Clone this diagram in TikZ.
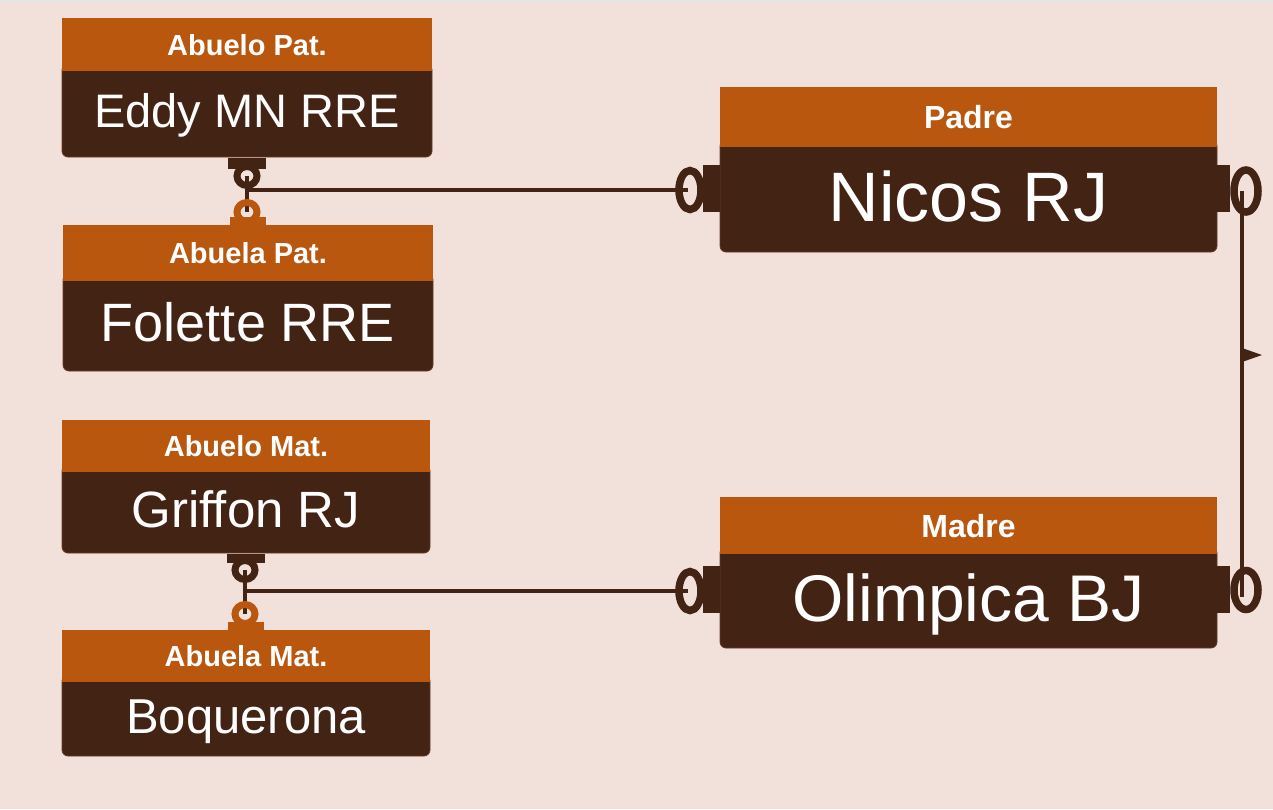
\documentclass[tikz,border=0pt]{standalone}
\usepackage{fontspec}
\setmainfont{Liberation Sans}
\usetikzlibrary{positioning}
\definecolor{famback}{HTML}{F2E1DB}
\definecolor{famorange}{HTML}{B9570E}
\definecolor{fambrown}{HTML}{432314}
\definecolor{famedge}{HTML}{6A3B24}
\newcommand{\fsz}[1]{\fontsize{#1}{#1}\selectfont}
\tikzset{
  person/.style={fill=fambrown,draw=famedge,line width=0.8pt,rounded corners=6pt,
    text=white,text depth=0pt,inner sep=0pt},
  role/.style={fill=famorange,text=white,text depth=0pt,inner sep=0pt},
  size/.style={font=\fsz{#1},text height=0.716*#1pt},
  bold size/.style={font=\bfseries\fsz{#1},text height=0.716*#1pt},
  tab/.style={fill=fambrown,inner sep=0pt},
  orange tab/.style={fill=famorange,inner sep=0pt},
  link/.style={draw=fambrown,line width=4pt},
  ring/.style={draw=fambrown,line width=7pt},
  orange ring/.style={draw=famorange,line width=7pt},
  oval/.style={draw=fambrown,line width=7.5pt}
}
\begin{document}
\begin{tikzpicture}[x=1pt,y=-1pt]
  \fill[famback] (0,0) rectangle (1273,809);
  \fill[black!10] (0,0) rectangle (1273,2);
  \useasboundingbox (0,0) rectangle (1273,809);

  \node[person,minimum width=370pt,minimum height=93pt,size=47] (eddy) at (247,110.5) {Eddy MN RRE};
  \node[role,minimum width=370pt,minimum height=53pt,bold size=29,above=-8pt of eddy] (eddyrole) {Abuelo Pat.};
  \node[person,minimum width=370pt,minimum height=97pt,size=54] (folette) at (248,322.5) {Folette RRE};
  \node[role,minimum width=370pt,minimum height=56pt,bold size=29,above=-8pt of folette] (foletterole) {Abuela Pat.};
  \node[person,minimum width=368pt,minimum height=88pt,size=51] (griffon) at (246,509) {Griffon RJ};
  \node[role,minimum width=368pt,minimum height=52pt,bold size=29,above=-8pt of griffon] (griffonrole) {Abuelo Mat.};
  \node[person,minimum width=368pt,minimum height=81pt,size=49] (boquerona) at (246,715.5) {Boquerona};
  \node[role,minimum width=368pt,minimum height=52pt,bold size=29,above=-8pt of boquerona] (boqueronarole) {Abuela Mat.};
  \node[person,minimum width=497pt,minimum height=112pt,size=70] (padre) at (968.5,196) {Nicos RJ};
  \node[role,minimum width=497pt,minimum height=60pt,bold size=32,above=-8pt of padre] (padrerole) {Padre};
  \node[person,minimum width=497pt,minimum height=101pt,size=66] (madre) at (968.5,597.5) {Olimpica BJ};
  \node[role,minimum width=497pt,minimum height=57pt,bold size=32,above=-8pt of madre] (madrerole) {Madre};

  \coordinate (eddyend) at (247,176);
  \coordinate (foletteend) at (247,212);
  \coordinate (griffonend) at (245,570);
  \coordinate (boqueronaend) at (245,614);
  \coordinate (padreL) at (690,190);
  \coordinate (padreR) at (1246,191);
  \coordinate (madreL) at (690,591);
  \coordinate (madreR) at (1246,590);
  \coordinate (flag) at (1242,348);

  \draw[link] (eddyend) -- (foletteend);
  \draw[link] (eddyend |- padreL) -- ([xshift=-2pt]padreL);
  \draw[link] (griffonend) -- (boqueronaend);
  \draw[link] (griffonend |- madreL) -- ([xshift=-2pt]madreL);
  \draw[link] ([xshift=-4pt]padreR) -- ([xshift=-4pt,yshift=-7pt]madreR);
  \fill[fambrown] (flag) -- ++(20,7) -- ++(-20,7) -- cycle;

  \draw[ring] (eddyend) ellipse [x radius=10pt,y radius=9.5pt];
  \node[tab,minimum width=38pt,minimum height=11pt,below=0pt of eddy] (eddytab) {};
  \draw[orange ring] (foletteend) ellipse [x radius=10pt,y radius=9.5pt];
  \node[orange tab,minimum width=36pt,minimum height=8pt,above=0pt of foletterole] (folettetab) {};
  \draw[ring] (griffonend) ellipse [x radius=10pt,y radius=9.5pt];
  \node[tab,minimum width=38pt,minimum height=9pt,below=0pt of griffon] (griffontab) {};
  \draw[orange ring] (boqueronaend) ellipse [x radius=10pt,y radius=9.5pt];
  \node[orange tab,minimum width=36pt,minimum height=8pt,above=0pt of boqueronarole] (boqueronatab) {};

  \draw[oval] (padreL) ellipse [x radius=11pt,y radius=19.5pt];
  \node[tab,minimum width=17pt,minimum height=47pt] (padreLtab) at (711.5,188.5) {};
  \draw[oval] (padreR) ellipse [x radius=12pt,y radius=21pt];
  \node[tab,minimum width=14pt,minimum height=47pt] (padreRtab) at (1223,188.5) {};
  \draw[oval] (madreL) ellipse [x radius=11pt,y radius=19.5pt];
  \node[tab,minimum width=17pt,minimum height=47pt] (madreLtab) at (711.5,589.5) {};
  \draw[oval] (madreR) ellipse [x radius=12pt,y radius=19.5pt];
  \node[tab,minimum width=14pt,minimum height=47pt] (madreRtab) at (1223,589.5) {};
\end{tikzpicture}
\end{document}
